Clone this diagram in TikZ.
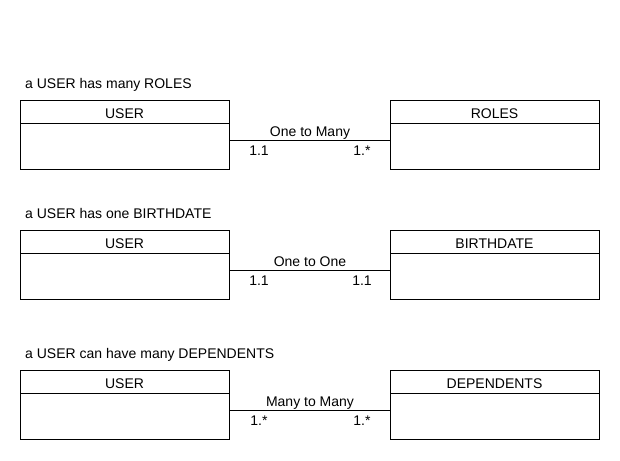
\documentclass[tikz,border=0pt]{standalone}
\usepackage{fontspec}
\setmainfont{Liberation Sans}
\begin{document}
\begin{tikzpicture}[x=1pt,y=-1pt,
  ent/.style={draw=black,line width=1pt,minimum width=209pt,minimum height=69pt,inner sep=0pt,anchor=north west},
  txt/.style={font=\fontsize{14}{16}\selectfont,inner sep=0pt},
  link/.style={draw=black,line width=1pt}]
\useasboundingbox (0,0) rectangle (620,460);
\foreach \i/\y/\title/\rname/\rel/\lm/\rm in {
  1/100/{a USER has many ROLES}/ROLES/{One to Many}/1.1/1.*,
  2/230/{a USER has one BIRTHDATE}/BIRTHDATE/{One to One}/1.1/1.1,
  3/370/{a USER can have many DEPENDENTS}/DEPENDENTS/{Many to Many}/1.*/1.*}{
  \node[txt,anchor=base west] (t\i) at (25,\y-12) {\title};
  \node[ent] (u\i) at (20,\y) {};
  \node[ent] (r\i) at (390,\y) {};
  \draw[link] ([yshift=-23pt]u\i.north west) -- ([yshift=-23pt]u\i.north east);
  \draw[link] ([yshift=-23pt]r\i.north west) -- ([yshift=-23pt]r\i.north east);
  \node[txt,anchor=base] (un\i) at (124.5,\y+18) {USER};
  \node[txt,anchor=base] (rn\i) at (494.5,\y+18) {\rname};
  \coordinate (a\i) at (229,\y+40);
  \coordinate (b\i) at (390,\y+40);
  \draw[link] (a\i) -- (b\i);
  \node[txt,anchor=base] (rel\i) at (310,\y+36) {\rel};
  \node[txt,anchor=base] (lm\i) at (259,\y+55) {\lm};
  \node[txt,anchor=base] (rm\i) at (362,\y+55) {\rm};
}
\end{tikzpicture}
\end{document}
